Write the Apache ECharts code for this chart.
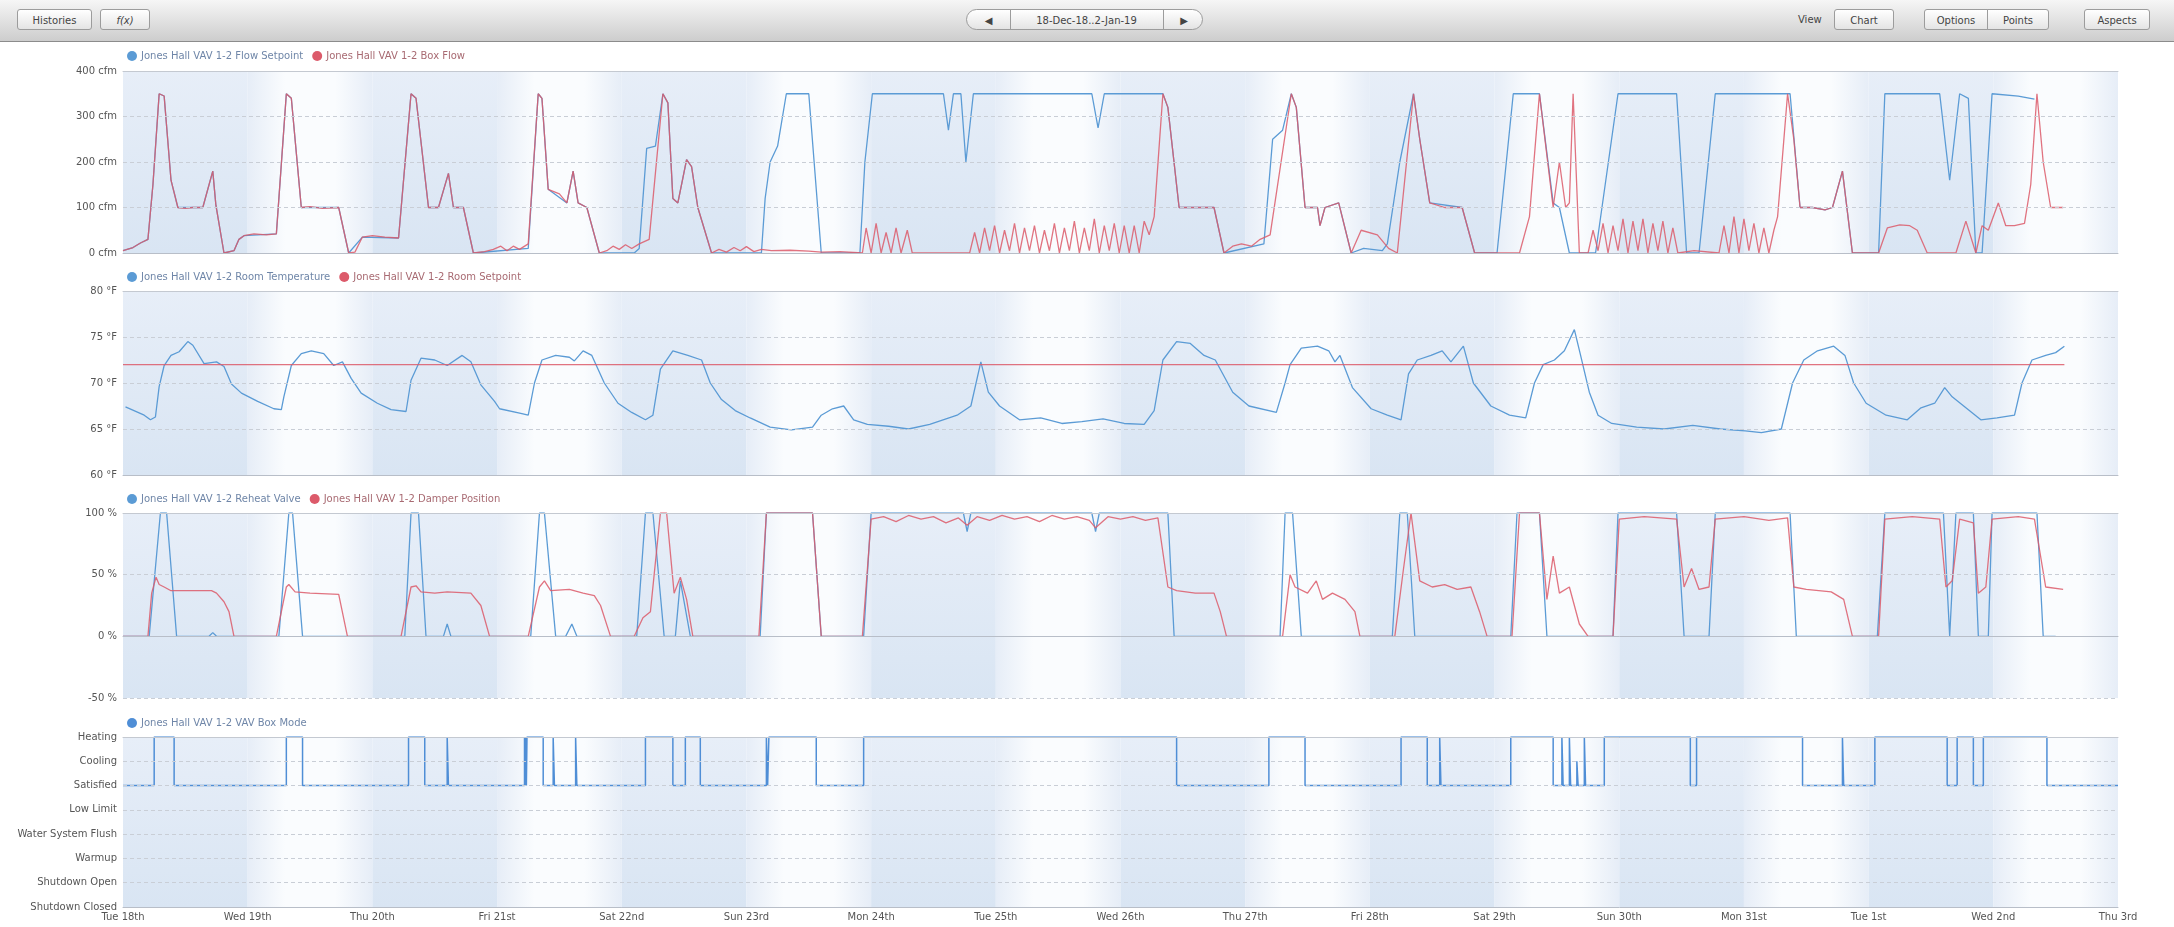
<!DOCTYPE html>
<html>
<head>
<meta charset="utf-8">
<script src="https://cdn.jsdelivr.net/npm/echarts@6/dist/echarts.min.js"></script>
<style>
html,body{margin:0;padding:0;background:#fff;width:2174px;height:927px;overflow:hidden;font-family:"DejaVu Sans",sans-serif;}
#chart{position:absolute;left:0;top:0;width:2174px;height:927px;}
#toolbar{position:absolute;left:0;top:0;width:2174px;height:41px;background:linear-gradient(#f6f6f6,#cdcdcd);border-bottom:1px solid #8c8c8c;z-index:5;}
.btn{position:absolute;top:9px;height:21px;line-height:21px;border:1px solid #9c9c9c;border-radius:3px;background:linear-gradient(#ffffff,#e4e4e4);font-size:10px;color:#444;text-align:center;box-sizing:border-box;}
.lbl{position:absolute;top:9px;height:21px;line-height:21px;font-size:10px;color:#444;}
</style>
</head>
<body>
<div id="chart"></div>
<div id="toolbar">
  <div class="btn" style="left:17px;width:75px;">Histories</div>
  <div class="btn" style="left:100px;width:50px;font-style:italic;">f(x)</div>
  <div class="btn" style="left:966px;width:237px;border-radius:12px;">
    <span style="position:absolute;left:0;width:43px;border-right:1px solid #9c9c9c;height:19px;">&#9664;</span>
    <span style="position:absolute;left:43px;width:153px;">18-Dec-18..2-Jan-19</span>
    <span style="position:absolute;left:196px;width:40px;border-left:1px solid #9c9c9c;height:19px;">&#9654;</span>
  </div>
  <div class="lbl" style="left:1798px;">View</div>
  <div class="btn" style="left:1834px;width:60px;">Chart</div>
  <div class="btn" style="left:1924px;width:64px;border-radius:3px 0 0 3px;">Options</div>
  <div class="btn" style="left:1987px;width:62px;border-radius:0 3px 3px 0;">Points</div>
  <div class="btn" style="left:2084px;width:66px;">Aspects</div>
</div>
<script>
// ---------- data (x = days since Tue 18-Dec-2018 00:00) ----------
const DAY_LABELS = ['Tue 18th','Wed 19th','Thu 20th','Fri 21st','Sat 22nd','Sun 23rd','Mon 24th','Tue 25th','Wed 26th','Thu 27th','Fri 28th','Sat 29th','Sun 30th','Mon 31st','Tue 1st','Wed 2nd','Thu 3rd'];
const MODE_CATS = ['Shutdown Closed','Shutdown Open','Warmup','Water System Flush','Low Limit','Satisfied','Cooling','Heating'];
const FLOW_TICKS = [0,100,200,300,400];
const TEMP_TICKS = [60,65,70,75,80];
const PCT_TICKS = [-50,0,50,100];

const flowSetpoint = [[0,5],[0.08,12],[0.14,22],[0.2,30],[0.24,150],[0.29,350],[0.33,345],[0.385,160],[0.44,100],[0.64,100],[0.72,180],[0.745,105],[0.81,0],[0.89,5],[0.93,30],[0.97,38],[1.23,42],[1.31,350],[1.35,340],[1.43,100],[1.73,100],[1.81,0],[1.92,35],[2.21,33],[2.31,350],[2.35,340],[2.45,100],[2.53,100],[2.61,175],[2.65,100],[2.73,100],[2.81,0],[3.25,10],[3.33,350],[3.36,340],[3.41,140],[3.56,110],[3.61,180],[3.65,110],[3.72,100],[3.82,0],[4.1,0],[4.14,10],[4.2,230],[4.27,235],[4.33,350],[4.37,330],[4.41,120],[4.45,110],[4.52,205],[4.56,190],[4.61,100],[4.72,0],[5.12,0],[5.15,120],[5.19,200],[5.25,235],[5.32,350],[5.5,350],[5.6,0],[5.91,0],[5.95,200],[6.01,350],[6.58,350],[6.62,270],[6.66,350],[6.72,350],[6.76,200],[6.82,350],[7.77,350],[7.82,275],[7.87,350],[8.34,350],[8.38,320],[8.47,100],[8.75,100],[8.83,0],[9.15,20],[9.22,250],[9.3,270],[9.37,350],[9.41,320],[9.48,100],[9.58,100],[9.6,60],[9.64,100],[9.75,110],[9.85,0],[9.95,10],[10.1,5],[10.14,20],[10.24,200],[10.35,350],[10.4,250],[10.48,110],[10.74,100],[10.84,0],[11.02,0],[11.15,350],[11.36,350],[11.47,110],[11.52,100],[11.6,0],[11.81,0],[11.99,350],[12.46,350],[12.54,0],[12.64,0],[12.77,350],[13.37,350],[13.45,100],[13.55,100],[13.65,95],[13.71,100],[13.79,180],[13.87,0],[14.08,0],[14.13,350],[14.57,350],[14.65,160],[14.73,350],[14.8,340],[14.86,0],[14.91,0],[14.99,350],[15.2,345],[15.33,338]];

const boxFlow = [[0,5],[0.08,12],[0.14,22],[0.2,30],[0.24,150],[0.29,350],[0.33,345],[0.385,160],[0.44,100],[0.5,98],[0.56,100],[0.64,100],[0.72,180],[0.745,105],[0.81,0],[0.89,5],[0.93,30],[0.97,38],[1.05,42],[1.15,40],[1.23,42],[1.31,350],[1.35,340],[1.43,100],[1.5,102],[1.6,98],[1.73,100],[1.81,0],[1.86,2],[1.92,35],[2.0,38],[2.1,35],[2.21,33],[2.31,350],[2.35,340],[2.45,100],[2.53,100],[2.61,175],[2.65,100],[2.73,100],[2.81,0],[2.9,3],[2.97,8],[3.03,15],[3.08,5],[3.13,15],[3.18,8],[3.25,20],[3.33,350],[3.36,340],[3.41,140],[3.5,130],[3.56,110],[3.61,180],[3.65,110],[3.72,100],[3.82,0],[3.88,5],[3.93,15],[3.98,8],[4.03,18],[4.08,10],[4.14,20],[4.22,30],[4.33,350],[4.37,330],[4.41,120],[4.45,110],[4.52,205],[4.56,190],[4.61,100],[4.72,0],[4.78,8],[4.84,2],[4.9,12],[4.95,5],[5.0,14],[5.06,3],[5.12,8],[5.2,5],[5.35,6],[5.5,4],[5.6,2],[5.75,3],[5.93,0],[5.96,55],[6.0,0],[6.04,65],[6.08,0],[6.12,45],[6.16,0],[6.2,55],[6.24,0],[6.29,50],[6.33,0],[6.79,0],[6.83,45],[6.87,0],[6.91,55],[6.95,5],[6.99,60],[7.03,0],[7.07,50],[7.11,5],[7.15,65],[7.19,0],[7.23,55],[7.27,5],[7.31,60],[7.35,0],[7.39,50],[7.43,5],[7.47,65],[7.51,0],[7.55,55],[7.59,5],[7.63,70],[7.67,0],[7.71,55],[7.75,5],[7.79,75],[7.83,0],[7.87,60],[7.91,5],[7.95,65],[7.99,0],[8.03,60],[8.07,0],[8.11,60],[8.15,0],[8.19,70],[8.23,40],[8.27,80],[8.34,350],[8.38,320],[8.47,100],[8.6,100],[8.75,100],[8.83,0],[8.9,15],[8.97,20],[9.05,15],[9.12,30],[9.2,40],[9.37,350],[9.41,320],[9.48,100],[9.58,100],[9.6,60],[9.64,100],[9.75,110],[9.85,0],[9.93,50],[10.06,40],[10.15,10],[10.22,0],[10.35,350],[10.4,250],[10.48,110],[10.6,100],[10.74,100],[10.84,0],[11.2,0],[11.28,80],[11.36,350],[11.47,100],[11.52,200],[11.57,100],[11.6,110],[11.63,350],[11.68,0],[11.75,0],[11.79,50],[11.83,5],[11.87,65],[11.91,0],[11.95,60],[11.99,5],[12.03,75],[12.07,0],[12.11,70],[12.15,5],[12.19,75],[12.23,0],[12.27,65],[12.31,5],[12.35,70],[12.39,0],[12.43,55],[12.47,0],[12.6,5],[12.8,0],[12.84,60],[12.88,0],[12.92,80],[12.96,0],[13.0,75],[13.04,5],[13.08,65],[13.12,0],[13.16,55],[13.2,0],[13.24,50],[13.27,80],[13.35,350],[13.4,250],[13.45,100],[13.55,100],[13.65,95],[13.71,100],[13.79,180],[13.87,0],[14.08,0],[14.15,55],[14.25,62],[14.33,60],[14.39,50],[14.47,0],[14.7,0],[14.78,70],[14.86,0],[14.91,60],[14.96,50],[15.04,110],[15.1,60],[15.17,60],[15.25,65],[15.3,150],[15.35,350],[15.4,200],[15.46,100],[15.56,100]];

const roomTemp = [[0.02,67.4],[0.17,66.5],[0.22,66.0],[0.26,66.3],[0.29,69.6],[0.33,71.9],[0.385,73.0],[0.45,73.4],[0.52,74.5],[0.56,74.1],[0.65,72.1],[0.75,72.3],[0.81,71.8],[0.87,69.9],[0.95,68.9],[1.08,68.0],[1.21,67.2],[1.27,67.1],[1.29,68.5],[1.35,71.9],[1.43,73.2],[1.51,73.5],[1.61,73.2],[1.69,71.9],[1.76,72.3],[1.83,70.5],[1.91,68.9],[2.04,67.8],[2.15,67.1],[2.27,66.9],[2.31,70.3],[2.39,72.7],[2.5,72.5],[2.6,71.9],[2.72,73.0],[2.79,72.3],[2.87,69.8],[2.98,68.0],[3.02,67.2],[3.19,66.7],[3.25,66.5],[3.3,70],[3.36,72.5],[3.47,73],[3.58,72.8],[3.62,72.4],[3.69,73.5],[3.76,73],[3.86,70],[3.97,67.8],[4.08,66.8],[4.19,66],[4.25,66.5],[4.31,71.5],[4.41,73.5],[4.53,73],[4.64,72.5],[4.71,70],[4.8,68.2],[4.91,67],[5.03,66.2],[5.19,65.2],[5.36,64.9],[5.53,65.2],[5.6,66.5],[5.69,67.2],[5.78,67.5],[5.86,66],[5.97,65.5],[6.14,65.3],[6.3,65],[6.47,65.5],[6.69,66.5],[6.8,67.5],[6.88,72.3],[6.94,69],[7.03,67.5],[7.19,66],[7.36,66.2],[7.53,65.6],[7.69,65.8],[7.86,66.1],[8.03,65.6],[8.19,65.5],[8.27,67],[8.34,72.5],[8.45,74.5],[8.56,74.3],[8.67,73],[8.76,72.5],[8.9,69],[9.03,67.5],[9.25,66.8],[9.32,70],[9.36,72],[9.45,73.8],[9.58,74],[9.67,73.5],[9.72,72.3],[9.76,73],[9.86,69.5],[10.01,67.2],[10.14,66.5],[10.25,66],[10.31,71],[10.38,72.5],[10.49,73],[10.58,73.5],[10.65,72.3],[10.75,74],[10.83,70],[10.97,67.5],[11.12,66.5],[11.25,66.2],[11.32,70],[11.39,72],[11.48,72.5],[11.56,73.5],[11.64,75.8],[11.69,73],[11.76,69],[11.83,66.5],[11.94,65.6],[12.14,65.2],[12.36,65],[12.59,65.4],[12.81,65],[13.01,64.8],[13.14,64.6],[13.3,65],[13.39,70],[13.48,72.5],[13.59,73.5],[13.72,74],[13.81,73],[13.88,70],[13.98,67.8],[14.14,66.5],[14.31,66],[14.42,67.3],[14.53,67.8],[14.61,69.5],[14.67,68.5],[14.78,67.3],[14.9,66],[15.03,66.2],[15.17,66.5],[15.23,70],[15.31,72.5],[15.42,73],[15.5,73.3],[15.57,74]];

const roomSetpoint = [[0,72],[15.57,72]];

const reheatValve = [[0,0],[0.21,0],[0.3,100],[0.35,100],[0.43,0],[0.69,0],[0.72,3],[0.75,0],[1.25,0],[1.33,100],[1.36,100],[1.44,0],[2.26,0],[2.31,100],[2.37,100],[2.43,0],[2.57,0],[2.6,10],[2.63,0],[3.27,0],[3.34,100],[3.38,100],[3.47,0],[3.55,0],[3.6,10],[3.64,0],[4.12,0],[4.19,100],[4.25,100],[4.34,0],[4.43,0],[4.47,45],[4.55,0],[5.11,0],[5.16,100],[5.53,100],[5.6,0],[5.94,0],[6.0,100],[6.74,100],[6.77,85],[6.8,100],[7.77,100],[7.8,85],[7.83,100],[8.38,100],[8.43,0],[9.28,0],[9.32,100],[9.38,100],[9.45,0],[10.18,0],[10.24,100],[10.3,100],[10.36,0],[11.13,0],[11.18,100],[11.36,100],[11.42,0],[11.95,0],[11.99,100],[12.46,100],[12.52,0],[12.72,0],[12.77,100],[13.37,100],[13.42,0],[14.07,0],[14.13,100],[14.6,100],[14.65,0],[14.7,100],[14.84,100],[14.88,0],[14.96,0],[14.99,100],[15.35,100],[15.4,0],[15.5,0]];

const damperPos = [[0,0],[0.2,0],[0.23,35],[0.265,48],[0.29,42],[0.33,40],[0.385,37],[0.5,37],[0.71,37],[0.75,35],[0.81,28],[0.85,20],[0.89,0],[1.23,0],[1.31,40],[1.33,42],[1.38,36],[1.5,35],[1.73,34],[1.8,0],[2.23,0],[2.31,40],[2.35,41],[2.39,36],[2.5,35],[2.6,36],[2.79,35],[2.87,25],[2.94,0],[3.25,0],[3.34,40],[3.38,45],[3.43,37],[3.58,38],[3.69,35],[3.78,33],[3.83,25],[3.91,0],[4.1,0],[4.17,15],[4.23,20],[4.31,100],[4.36,100],[4.42,35],[4.47,48],[4.52,30],[4.57,0],[5.1,0],[5.16,100],[5.53,100],[5.6,0],[5.93,0],[6.0,95],[6.1,97],[6.2,93],[6.3,98],[6.4,95],[6.5,97],[6.6,92],[6.7,96],[6.77,90],[6.85,97],[6.95,94],[7.05,98],[7.15,95],[7.25,97],[7.35,93],[7.45,98],[7.55,95],[7.65,97],[7.75,94],[7.8,88],[7.9,97],[8.0,95],[8.1,97],[8.2,94],[8.3,96],[8.38,40],[8.45,37],[8.6,35],[8.75,35],[8.8,20],[8.85,0],[9.3,0],[9.36,50],[9.4,40],[9.5,35],[9.57,45],[9.62,30],[9.7,35],[9.8,30],[9.88,20],[9.92,0],[10.2,0],[10.27,55],[10.33,100],[10.4,45],[10.5,40],[10.6,42],[10.7,38],[10.81,40],[10.88,20],[10.94,0],[11.14,0],[11.2,100],[11.36,100],[11.42,30],[11.47,65],[11.52,35],[11.6,40],[11.68,10],[11.75,0],[11.95,0],[12.0,95],[12.2,97],[12.46,95],[12.52,40],[12.58,55],[12.64,38],[12.72,40],[12.77,95],[13.0,97],[13.2,94],[13.35,96],[13.4,40],[13.5,38],[13.7,36],[13.8,30],[13.87,0],[14.08,0],[14.13,95],[14.35,97],[14.57,95],[14.62,40],[14.67,45],[14.73,95],[14.84,92],[14.88,35],[14.94,40],[14.99,95],[15.2,97],[15.33,95],[15.42,40],[15.56,38]];

const boxMode = [[0,'Satisfied'],[0.25,'Heating'],[0.41,'Satisfied'],[1.31,'Heating'],[1.44,'Satisfied'],[2.29,'Heating'],[2.42,'Satisfied'],[2.6,'Heating'],[2.61,'Satisfied'],[3.22,'Heating'],[3.225,'Satisfied'],[3.23,'Heating'],[3.235,'Satisfied'],[3.24,'Heating'],[3.37,'Satisfied'],[3.45,'Heating'],[3.46,'Satisfied'],[3.63,'Heating'],[3.64,'Satisfied'],[4.19,'Heating'],[4.41,'Satisfied'],[4.51,'Heating'],[4.63,'Satisfied'],[5.16,'Heating'],[5.17,'Satisfied'],[5.18,'Heating'],[5.56,'Satisfied'],[5.94,'Heating'],[8.45,'Satisfied'],[9.19,'Heating'],[9.48,'Satisfied'],[10.25,'Heating'],[10.46,'Satisfied'],[10.56,'Heating'],[10.57,'Satisfied'],[11.13,'Heating'],[11.47,'Satisfied'],[11.54,'Heating'],[11.55,'Satisfied'],[11.6,'Heating'],[11.61,'Satisfied'],[11.66,'Cooling'],[11.67,'Satisfied'],[11.72,'Heating'],[11.73,'Satisfied'],[11.88,'Heating'],[12.57,'Satisfied'],[12.62,'Heating'],[13.47,'Satisfied'],[13.79,'Heating'],[13.8,'Satisfied'],[14.05,'Heating'],[14.63,'Satisfied'],[14.71,'Heating'],[14.84,'Satisfied'],[14.92,'Heating'],[15.43,'Satisfied'],[16,'Satisfied']];

// ---------- styling ----------
const BLUE = '#5b9bd5', RED = '#dc5a6a', MODEBLUE = '#4f8ed6';
const FONT = 'DejaVu Sans';
const NUM_DAYS = DAY_LABELS.length - 1;
const grids = [
  {left:123, right:56, top:71, height:182},
  {left:123, right:56, top:291, height:184},
  {left:123, right:56, top:513, height:185},
  {left:123, right:56, top:737, height:170}
];
const legendTops = [51, 272, 494, 718];
const blueBand = {type:'linear',x:0,y:0,x2:0,y2:1,colorStops:[{offset:0,color:'#e7eef8'},{offset:1,color:'#d9e5f3'}]};
const whiteBand = {type:'linear',x:0,y:0,x2:1,y2:0,colorStops:[{offset:0,color:'#e6edf7'},{offset:0.3,color:'#fafcfe'},{offset:0.7,color:'#fafcfe'},{offset:1,color:'#e6edf7'}]};
function bandAreas(){
  const a=[];
  for(let d=0; d<NUM_DAYS; d++) a.push([{xAxis:d, itemStyle:{color: d%2===0 ? blueBand : whiteBand}},{xAxis:d+1}]);
  return a;
}
const splitStyle = {show:true, lineStyle:{color:'#c9ced6', type:[4,3], width:1}};
const axLabel = {color:'#555', fontSize:10, fontFamily:FONT};

const xAxes = grids.map((g,i)=>({
  type:'value', gridIndex:i, min:0, max:NUM_DAYS, interval:1, z:3,
  axisLine:{show:true, lineStyle:{color:'#b8bec8'}}, axisTick:{show:false}, splitLine:{show:false},
  axisLabel: i===3 ? Object.assign({}, axLabel, {margin:5, formatter:v=>DAY_LABELS[v]||''}) : {show:false}
}));
// top border of every panel
grids.forEach((g,i)=>xAxes.push({type:'value', gridIndex:i, position:'top', min:0, max:NUM_DAYS, z:3,
  axisLine:{show:true, lineStyle:{color:'#c4c9d1'}}, axisTick:{show:false}, axisLabel:{show:false}, splitLine:{show:false}}));

const yAxes = [
  {type:'value', gridIndex:0, min:FLOW_TICKS[0], max:FLOW_TICKS[FLOW_TICKS.length-1], interval:100, z:3, axisLine:{show:false}, axisTick:{show:false}, splitLine:splitStyle, axisLabel:Object.assign({}, axLabel, {formatter:v=>v+' cfm', margin:6})},
  {type:'value', gridIndex:1, min:TEMP_TICKS[0], max:TEMP_TICKS[TEMP_TICKS.length-1], interval:5, z:3, axisLine:{show:false}, axisTick:{show:false}, splitLine:splitStyle, axisLabel:Object.assign({}, axLabel, {formatter:v=>v+' °F', margin:6})},
  {type:'value', gridIndex:2, min:PCT_TICKS[0], max:PCT_TICKS[PCT_TICKS.length-1], interval:50, z:3, axisLine:{show:false}, axisTick:{show:false}, splitLine:splitStyle, axisLabel:Object.assign({}, axLabel, {formatter:v=>v+' %', margin:6})},
  {type:'value', gridIndex:3, min:0, max:MODE_CATS.length-1, interval:1, z:3, axisLine:{show:false}, axisTick:{show:false}, splitLine:splitStyle, axisLabel:Object.assign({}, axLabel, {margin:6, formatter:v=>MODE_CATS[v]||''})}
];

function bandSeries(i, y){
  return {type:'line', xAxisIndex:i, yAxisIndex:i, data:[[0,y]], symbol:'none', lineStyle:{opacity:0}, silent:true, z:1,
    markArea:{silent:true, data:bandAreas()}};
}
function lineSeries(name, i, data, color, extra){
  return Object.assign({name, type:'line', xAxisIndex:i, yAxisIndex:i, data, symbol:'none', smooth:false,
    lineStyle:{color, width:1.3}, itemStyle:{color}, z:2, animation:false}, extra||{});
}
const modeData = boxMode.map(([t,m])=>[t, MODE_CATS.indexOf(m)]);

const series = [
  bandSeries(0,0), bandSeries(1,60), bandSeries(2,-50), bandSeries(3,0),
  lineSeries('Jones Hall VAV 1-2 Flow Setpoint', 0, flowSetpoint, BLUE),
  lineSeries('Jones Hall VAV 1-2 Box Flow', 0, boxFlow, RED, {lineStyle:{color:RED, width:1.3, opacity:0.85}}),
  lineSeries('Jones Hall VAV 1-2 Room Temperature', 1, roomTemp, BLUE),
  lineSeries('Jones Hall VAV 1-2 Room Setpoint', 1, roomSetpoint, RED, {lineStyle:{color:RED, width:1.3, opacity:0.85}}),
  lineSeries('Jones Hall VAV 1-2 Reheat Valve', 2, reheatValve, BLUE),
  lineSeries('Jones Hall VAV 1-2 Damper Position', 2, damperPos, RED, {lineStyle:{color:RED, width:1.3, opacity:0.85}}),
  lineSeries('Jones Hall VAV 1-2 VAV Box Mode', 3, modeData, MODEBLUE, {step:'end', lineStyle:{color:MODEBLUE, width:1.5}})
];

function legendFor(i, items){
  return {left:127, top:legendTops[i], padding:0, itemGap:9, itemWidth:10, itemHeight:10, icon:'circle',
    textStyle:{fontSize:10, fontFamily:FONT, padding:[0,0,0,-1]},
    data: items.map(([n,c])=>({name:n, textStyle:{color:c}})), selectedMode:false};
}

const chart = echarts.init(document.getElementById('chart'), null, {renderer:'canvas'});
chart.setOption({
  animation:false,
  backgroundColor:'#ffffff',
  grid: grids,
  xAxis: xAxes,
  yAxis: yAxes,
  legend: [
    legendFor(0, [['Jones Hall VAV 1-2 Flow Setpoint','#6f86a8'],['Jones Hall VAV 1-2 Box Flow','#a86a72']]),
    legendFor(1, [['Jones Hall VAV 1-2 Room Temperature','#6f86a8'],['Jones Hall VAV 1-2 Room Setpoint','#a86a72']]),
    legendFor(2, [['Jones Hall VAV 1-2 Reheat Valve','#6f86a8'],['Jones Hall VAV 1-2 Damper Position','#a86a72']]),
    legendFor(3, [['Jones Hall VAV 1-2 VAV Box Mode','#6f86a8']])
  ],
  series
});
</script>
</body>
</html>
